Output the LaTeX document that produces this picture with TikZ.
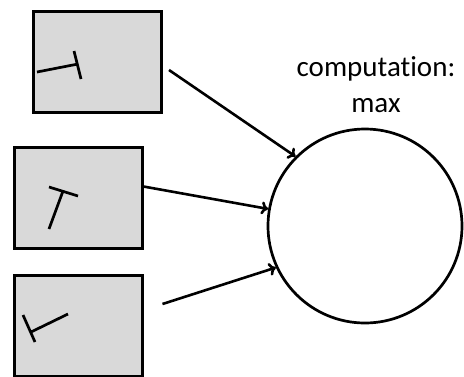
\documentclass[tikz,border=0pt]{standalone}
\usepackage{fontspec}
\setmainfont{Carlito}[Ligatures=NoCommon]
\usetikzlibrary{arrows.meta}

\begin{document}
\begin{tikzpicture}[x=1pt, y=-1pt,
   cell/.style={draw, fill=gray!30, line width=3pt, minimum width=128pt, minimum height=101pt, inner sep=0pt},
   bar/.style={line width=2.7pt},
   link/.style={line width=2.6pt, -{To[length=7pt,width=13pt]}}]
 \useasboundingbox (0,0) rectangle (464,376);
 \node (b1) [cell] at (97.5,62) {};
 \node (b2) [cell] at (78,197.5) {};
 \node (b3) [cell] at (78,326) {};
 \node (c) [circle, draw, line width=2.7pt, minimum size=194pt] at (365,226) {};
 \node (lbl) [align=center, font=\fontsize{29}{36}\selectfont] at (376,85) {computation:\\max};
 % the rotated T in each cell
 \draw[bar] (37,72) -- (78,64) (74,51) -- (81,79);
 \draw[bar] (49,187) -- (78,196) (63,191) -- (49,229);
 \draw[bar] (23,315) -- (35,342) (31,332) -- (68,314);
 \draw[link] ([xshift=6pt, yshift=-8pt]b1.east) -- (c.135);
 \draw[link] ([yshift=11pt]b2.east) -- (c.170);
 \draw[link] ([xshift=19pt, yshift=22pt]b3.east) -- (c.205);
\end{tikzpicture}
\end{document}
